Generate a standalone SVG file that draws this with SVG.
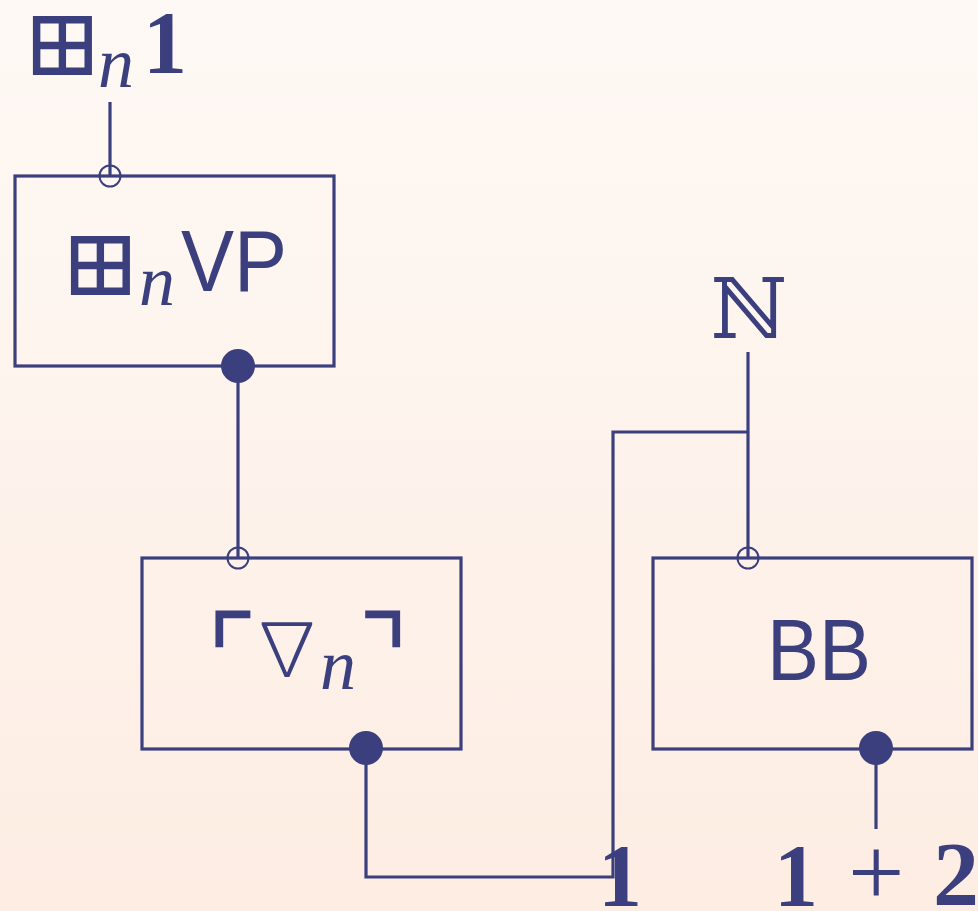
<svg xmlns="http://www.w3.org/2000/svg" width="978" height="911" viewBox="0 0 978 911">
<defs>
<linearGradient id="bg" x1="0" y1="0" x2="0" y2="1">
<stop offset="0" stop-color="#fef9f5"/>
<stop offset="1" stop-color="#fdede3"/>
</linearGradient>
</defs>
<style>
.ln{fill:none;stroke:#3b3f7e;stroke-width:3.2}
.box{fill:none;stroke:#3b3f7e;stroke-width:3.2}
.open{fill:none;stroke:#3b3f7e;stroke-width:2}
.dot{fill:#3b3f7e}
.t{fill:#3b3f7e}
.bp{font-family:"DejaVu Serif",serif}
.cj{font-family:"Noto Sans CJK JP","DejaVu Sans",sans-serif;font-weight:300}
.cn{font-family:"Noto Sans CJK JP","DejaVu Sans",sans-serif;font-weight:100}
.bb{font-family:"DejaVu Serif",serif}
.it{font-family:"Liberation Serif",serif;font-style:italic}
.bf{font-family:"Liberation Serif",serif;font-weight:bold}
.sf{font-family:"Liberation Sans",sans-serif}
.rm{font-family:"Liberation Serif",serif}
</style>
<rect width="978" height="911" fill="url(#bg)"/>
<g id="connectors">
<line class="ln" x1="110" y1="102" x2="110" y2="176"/>
<line class="ln" x1="238" y1="366" x2="238" y2="558"/>
<polyline class="ln" points="366,748 366,877 613,877 613,432 748,432"/>
<line class="ln" x1="748" y1="352" x2="748" y2="558"/>
<line class="ln" x1="876" y1="748" x2="876" y2="829"/>
</g>
<g id="label-top">
<text class="t bp" x="23" y="75" font-size="94">⊞</text>
<text class="t it" x="98" y="87" font-size="72">n</text>
<text class="t bf" x="143" y="72" font-size="88">1</text>
</g>
<g id="node-vp">
<rect class="box" x="15" y="176" width="319" height="190"/>
<text class="t bp" x="61" y="295" font-size="94">⊞</text>
<text class="t it" x="139" y="305" font-size="72">n</text>
<text class="t sf" x="181" y="291" font-size="88" textLength="106" lengthAdjust="spacingAndGlyphs">VP</text>
<circle class="open" cx="110" cy="176" r="10.5"/>
<circle class="dot" cx="238" cy="366" r="17"/>
</g>
<g id="node-grad">
<rect class="box" x="142" y="558" width="319" height="191"/>
<text class="t cn" x="232" y="694" font-size="110" text-anchor="middle">⌜</text>
<text class="t cj" x="287" y="675" font-size="74" text-anchor="middle">∇</text>
<text class="t it" x="320" y="689" font-size="72">n</text>
<text class="t cn" x="384" y="694" font-size="110" text-anchor="middle">⌝</text>
<circle class="open" cx="238" cy="558" r="10.5"/>
<circle class="dot" cx="366" cy="748" r="17"/>
</g>
<g id="node-bb">
<rect class="box" x="653" y="558" width="319" height="191"/>
<text class="t sf" x="767" y="680" font-size="88" textLength="104" lengthAdjust="spacingAndGlyphs">BB</text>
<circle class="open" cx="748" cy="558" r="10.5"/>
<circle class="dot" cx="876" cy="748" r="17"/>
</g>
<g id="label-n">
<text class="t bb" x="749" y="338" font-size="84" text-anchor="middle">ℕ</text>
</g>
<g id="label-one">
<text class="t bf" x="598" y="905" font-size="88">1</text>
</g>
<g id="label-sum">
<text class="t bf" x="774" y="905" font-size="88">1</text>
<text class="t rm" x="848" y="906" font-size="100">+</text>
<text class="t bf" x="933" y="905" font-size="92">2</text>
</g>
</svg>
